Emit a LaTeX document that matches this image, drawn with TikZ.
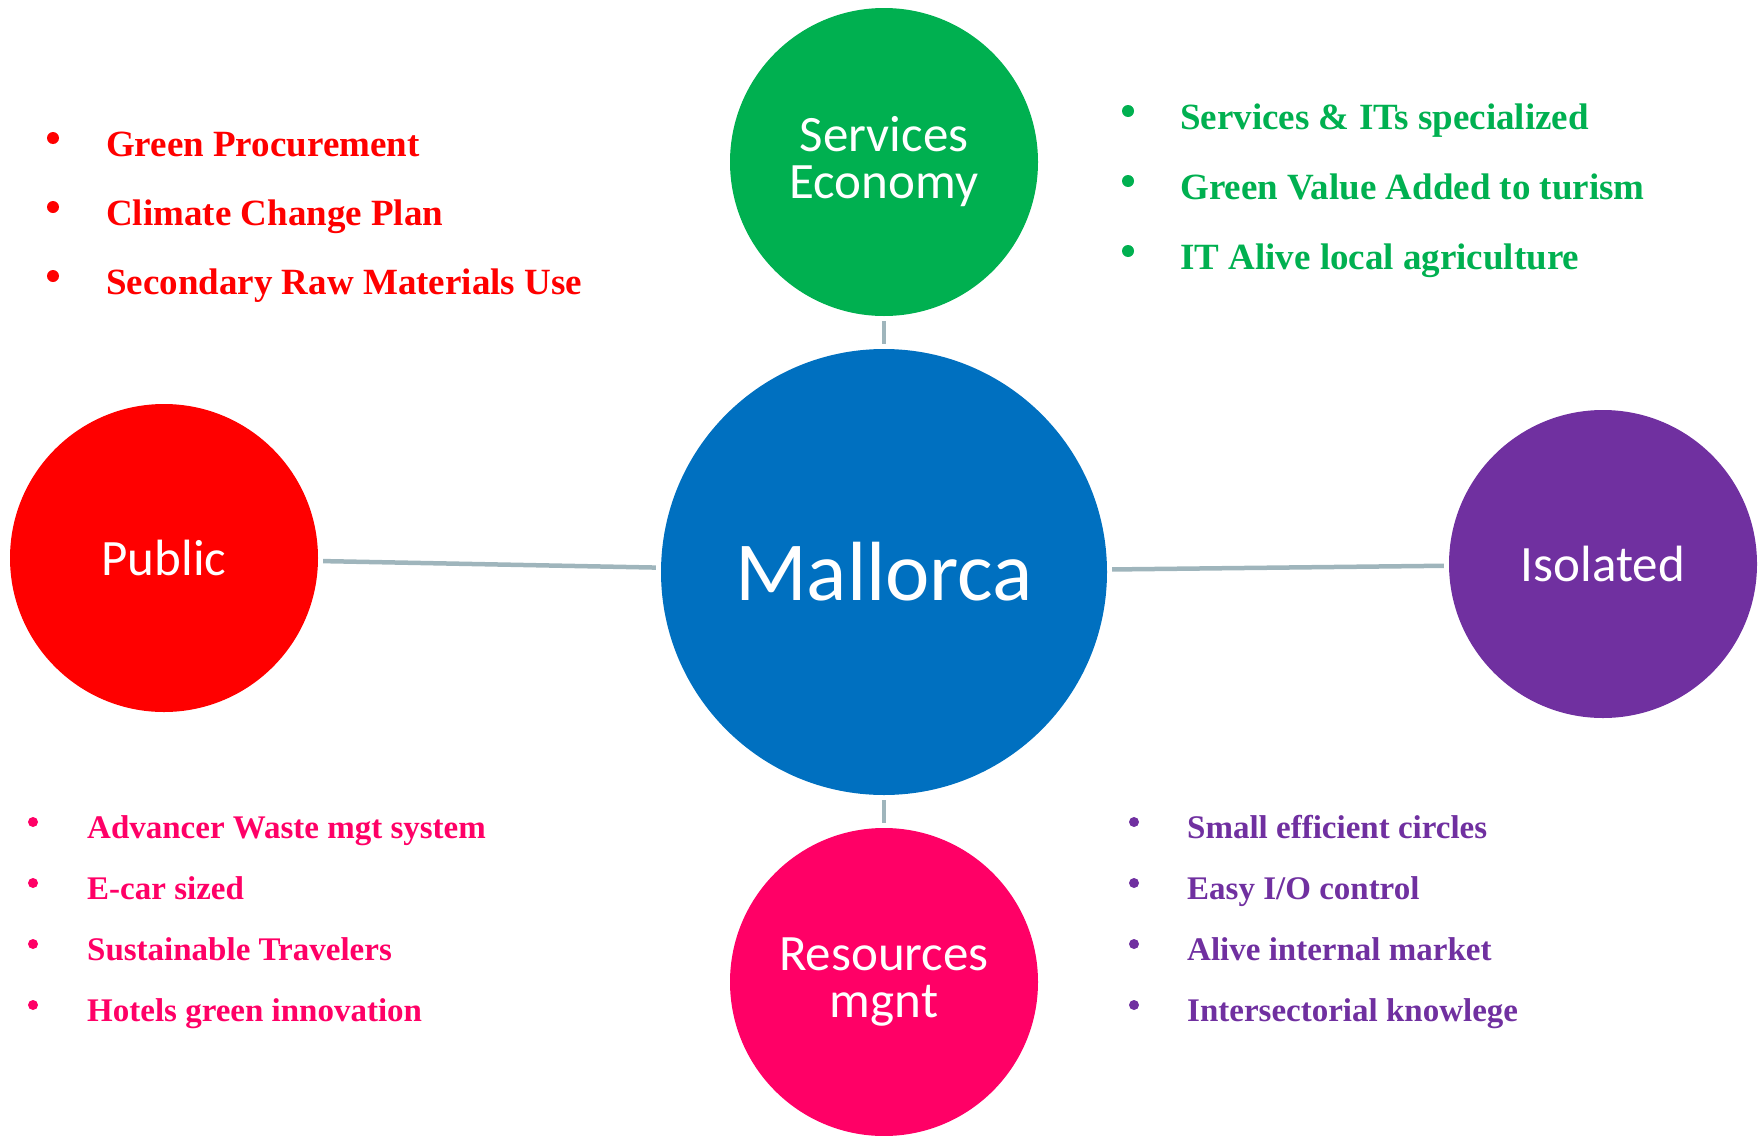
\documentclass[tikz,border=0pt]{standalone}
\usepackage{fontspec}
\setmainfont{Liberation Serif}
\newfontfamily\hubfont{Carlito}
\usetikzlibrary{positioning}

\definecolor{hubblue}{HTML}{0070C0}
\definecolor{pubred}{HTML}{FF0000}
\definecolor{servgreen}{HTML}{00B050}
\definecolor{respink}{HTML}{FF0066}
\definecolor{isopurple}{HTML}{7030A0}
\definecolor{linkgray}{HTML}{9FB5BC}

\begin{document}
\begin{tikzpicture}[x=1pt, y=-1pt,
  hub/.style={circle, inner sep=0pt, align=center, text=white,
    minimum size=308pt, font=\hubfont\fontsize{51}{47}\selectfont},
  link/.style={draw=linkgray, line width=4.5pt, shorten <=5pt, shorten >=5pt},
  item/.style={anchor=base west, inner sep=0pt, font=\bfseries\fontsize{37}{37}\selectfont},
  smallitem/.style={item, font=\bfseries\fontsize{33}{33}\selectfont},
  dot/.style={circle, inner sep=0pt, minimum size=12pt},
  smalldot/.style={dot, minimum size=10pt}
]
  \useasboundingbox (0,0) rectangle (1763,1135);

  % circles
  \node[hub, fill=hubblue, minimum size=446pt,
    font=\hubfont\fontsize{84}{84}\selectfont] (mallorca) at (884,572) {Mallorca};
  \node[hub, fill=servgreen] (services) at (884,162) {Services\\Economy};
  \node[hub, fill=respink] (resources) at (884,982) {Resources\\mgnt};
  \node[hub, fill=pubred] (public) at (164,558) {Public};
  \node[hub, fill=isopurple] (isolated) at (1603,564) {Isolated};

  % links
  \draw[link] (services) -- (mallorca);
  \draw[link] (mallorca) -- (resources);
  \draw[link] (public) -- (mallorca);
  \draw[link] (mallorca) -- (isolated);

  % lists
  \foreach \txt [count=\i] in {Green Procurement, Climate Change Plan,
      Secondary Raw Materials Use} {
    \node[item, text=pubred] (pub\i) at (106,{156+69*(\i-1)}) {\txt};
    \node[dot, fill=pubred] (pubdot\i) at (53,{138+69*(\i-1)}) {};
  }
  \foreach \txt [count=\i] in {Services \& ITs specialized,
      Green Value Added to turism, IT Alive local agriculture} {
    \node[item, text=servgreen] (serv\i) at (1180,{129+70*(\i-1)}) {\txt};
    \node[dot, fill=servgreen] (servdot\i) at (1128,{111+70*(\i-1)}) {};
  }
  \foreach \txt [count=\i] in {Advancer Waste mgt system, E-car sized,
      Sustainable Travelers, Hotels green innovation} {
    \node[smallitem, text=respink] (res\i) at (87,{838+61*(\i-1)}) {\txt};
    \node[smalldot, fill=respink] (resdot\i) at (33,{822+61*(\i-1)}) {};
  }
  \foreach \txt [count=\i] in {Small efficient circles, Easy I/O control,
      Alive internal market, Intersectorial knowlege} {
    \node[smallitem, text=isopurple] (iso\i) at (1187,{838+61*(\i-1)}) {\txt};
    \node[smalldot, fill=isopurple] (isodot\i) at (1134,{822+61*(\i-1)}) {};
  }
\end{tikzpicture}
\end{document}
